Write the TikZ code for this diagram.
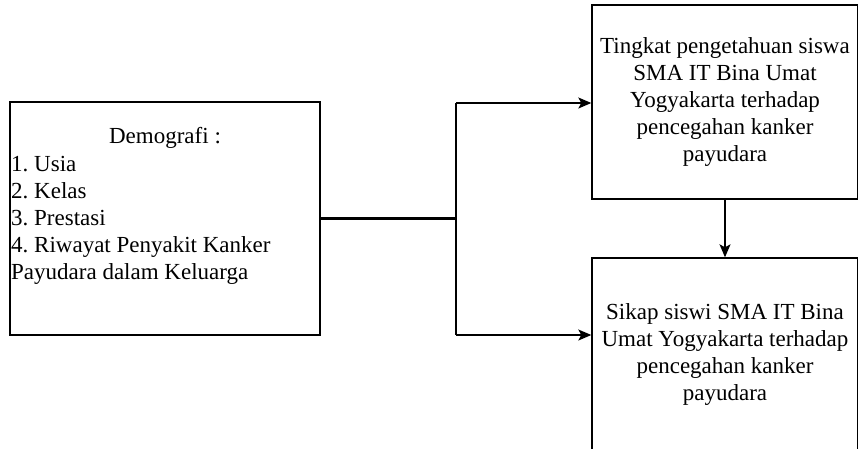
\documentclass[tikz,border=0pt]{standalone}
\usepackage{fontspec}
\setmainfont{Liberation Serif}
\frenchspacing
\usetikzlibrary{arrows.meta,positioning}

\begin{document}
\begin{tikzpicture}[x=1pt,y=-1pt,
	box/.style={draw,line width=1.4pt,inner sep=0pt},
	txt/.style={font=\fontsize{23}{27}\selectfont},
	link/.style={line width=1.4pt,-{Stealth[length=13pt,width=11pt,inset=3pt]}}]

	\useasboundingbox (0,0) rectangle (858,448);

	\node[box,minimum width=310,minimum height=233] (demo) at (165,218.5) {};
	\node[txt,anchor=base] (demotitle) at (165,143) {Demografi :};
	\node[txt,align=left,anchor=north west,inner sep=0pt] (demolist) at (11,156)
		{1. Usia\\2. Kelas\\3. Prestasi\\4. Riwayat Penyakit Kanker\\Payudara dalam Keluarga};

	\node[box,txt,align=center,minimum width=266,minimum height=194] (tahu) at (725,102)
		{Tingkat pengetahuan siswa\\SMA IT Bina Umat\\Yogyakarta terhadap\\pencegahan kanker\\payudara};
	\node[box,txt,align=center,minimum width=266,minimum height=192] (sikap) at (725,354)
		{Sikap siswi SMA IT Bina\\Umat Yogyakarta terhadap\\pencegahan kanker\\payudara};

	\coordinate (split) at (456,218.5);
	\coordinate (up) at (456,103);
	\coordinate (down) at (456,335);

	\draw[line width=3pt] (demo.east) -- (split);
	\draw[line width=1.4pt] (up) -- (down);
	\draw[link] (up) -- (up -| tahu.west);
	\draw[link] (down) -- (down -| sikap.west);
	\draw[link] (tahu.south) -- (sikap.north);

\end{tikzpicture}
\end{document}
